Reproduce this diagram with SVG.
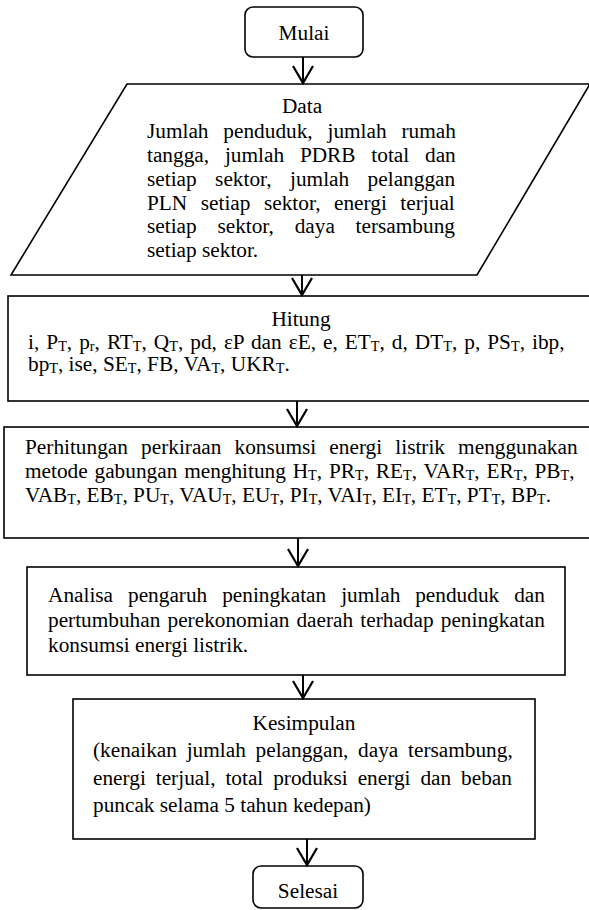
<svg xmlns="http://www.w3.org/2000/svg" width="589" height="910" viewBox="0 0 589 910">
<style>
text{font-family:"Liberation Serif","Times New Roman",serif;font-size:21.3px;fill:#000}
.c{text-anchor:middle}
.sub{font-size:14.2px}
.box{fill:#fff;stroke:#000;stroke-width:1.6}
.ln{stroke:#000;stroke-width:2;fill:none}
.hd{stroke:#000;stroke-width:2.2;fill:none;stroke-linejoin:miter}
</style>
<rect width="589" height="910" fill="#fff"/>
<g id="mulai">
<rect class="box" x="245" y="7" width="118" height="50" rx="8"/>
<text class="c" x="304" y="39.5">Mulai</text>
</g>
<g id="data">
<polygon class="box" points="127,84 590,84 477,275 11,275"/>
<text class="c" x="302" y="113">Data</text>
<text x="147" y="138" word-spacing="9.5">Jumlah penduduk, jumlah rumah</text>
<text x="147" y="162" word-spacing="10.5">tangga, jumlah PDRB total dan</text>
<text x="147" y="186" word-spacing="13.1">setiap sektor, jumlah pelanggan</text>
<text x="147" y="209.5" word-spacing="8.2">PLN setiap sektor, energi terjual</text>
<text x="147" y="233" word-spacing="15.4">setiap sektor, daya tersambung</text>
<text x="147" y="257">setiap sektor.</text>
</g>
<g id="hitung">
<rect class="box" x="8" y="296" width="590" height="105"/>
<text class="c" x="301" y="326">Hitung</text>
<text x="28" y="348.5" word-spacing="1.7">i, P<tspan class="sub" dy="2">T</tspan><tspan dy="-2">, p</tspan><tspan class="sub" dy="2">r</tspan><tspan dy="-2">, RT</tspan><tspan class="sub" dy="2">T</tspan><tspan dy="-2">, Q</tspan><tspan class="sub" dy="2">T</tspan><tspan dy="-2">, pd, εP dan εE, e, ET</tspan><tspan class="sub" dy="2">T</tspan><tspan dy="-2">, d, DT</tspan><tspan class="sub" dy="2">T</tspan><tspan dy="-2">, p, PS</tspan><tspan class="sub" dy="2">T</tspan><tspan dy="-2">, ibp,</tspan></text>
<text x="28" y="371">bp<tspan class="sub" dy="2">T</tspan><tspan dy="-2">, ise, SE</tspan><tspan class="sub" dy="2">T</tspan><tspan dy="-2">, FB, VA</tspan><tspan class="sub" dy="2">T</tspan><tspan dy="-2">, UKR</tspan><tspan class="sub" dy="2">T</tspan><tspan dy="-2">.</tspan></text>
</g>
<g id="perhitungan">
<rect class="box" x="4" y="427" width="594" height="111"/>
<text x="25" y="454" word-spacing="7.8">Perhitungan perkiraan konsumsi energi listrik menggunakan</text>
<text x="25" y="478" word-spacing="1.5">metode gabungan menghitung H<tspan class="sub" dy="2">T</tspan><tspan dy="-2">, PR</tspan><tspan class="sub" dy="2">T</tspan><tspan dy="-2">, RE</tspan><tspan class="sub" dy="2">T</tspan><tspan dy="-2">, VAR</tspan><tspan class="sub" dy="2">T</tspan><tspan dy="-2">, ER</tspan><tspan class="sub" dy="2">T</tspan><tspan dy="-2">, PB</tspan><tspan class="sub" dy="2">T</tspan><tspan dy="-2">,</tspan></text>
<text x="25" y="502">VAB<tspan class="sub" dy="2">T</tspan><tspan dy="-2">, EB</tspan><tspan class="sub" dy="2">T</tspan><tspan dy="-2">, PU</tspan><tspan class="sub" dy="2">T</tspan><tspan dy="-2">, VAU</tspan><tspan class="sub" dy="2">T</tspan><tspan dy="-2">, EU</tspan><tspan class="sub" dy="2">T</tspan><tspan dy="-2">, PI</tspan><tspan class="sub" dy="2">T</tspan><tspan dy="-2">, VAI</tspan><tspan class="sub" dy="2">T</tspan><tspan dy="-2">, EI</tspan><tspan class="sub" dy="2">T</tspan><tspan dy="-2">, ET</tspan><tspan class="sub" dy="2">T</tspan><tspan dy="-2">, PT</tspan><tspan class="sub" dy="2">T</tspan><tspan dy="-2">, BP</tspan><tspan class="sub" dy="2">T</tspan><tspan dy="-2">.</tspan></text>
</g>
<g id="analisa">
<rect class="box" x="27" y="567" width="538" height="108"/>
<text x="48" y="602" word-spacing="9.6">Analisa pengaruh peningkatan jumlah penduduk dan</text>
<text x="48" y="627" word-spacing="1.8">pertumbuhan perekonomian daerah terhadap peningkatan</text>
<text x="48" y="652">konsumsi energi listrik.</text>
</g>
<g id="kesimpulan">
<rect class="box" x="73" y="699" width="462" height="140"/>
<text class="c" x="304" y="730">Kesimpulan</text>
<text x="93" y="757" word-spacing="4.4">(kenaikan jumlah pelanggan, daya tersambung,</text>
<text x="93" y="785" word-spacing="4.6">energi terjual, total produksi energi dan beban</text>
<text x="93" y="812">puncak selama 5 tahun kedepan)</text>
</g>
<g id="selesai">
<rect class="box" x="253" y="866" width="110" height="42" rx="8"/>
<text class="c" x="308" y="898">Selesai</text>
</g>
<g id="connectors">
<line class="ln" x1="303" y1="57" x2="303" y2="83"/>
<polyline class="hd" points="293,66 303,83 313,66"/>
<line class="ln" x1="302" y1="275" x2="302" y2="295"/>
<polyline class="hd" points="292,278 302,295 312,278"/>
<line class="ln" x1="297" y1="401" x2="297" y2="426"/>
<polyline class="hd" points="287,409 297,426 307,409"/>
<line class="ln" x1="298" y1="538" x2="298" y2="566"/>
<polyline class="hd" points="288,549 298,566 308,549"/>
<line class="ln" x1="303" y1="675" x2="303" y2="698"/>
<polyline class="hd" points="293,681 303,698 313,681"/>
<line class="ln" x1="307" y1="839" x2="307" y2="865"/>
<polyline class="hd" points="297,848 307,865 317,848"/>
</g>
</svg>
